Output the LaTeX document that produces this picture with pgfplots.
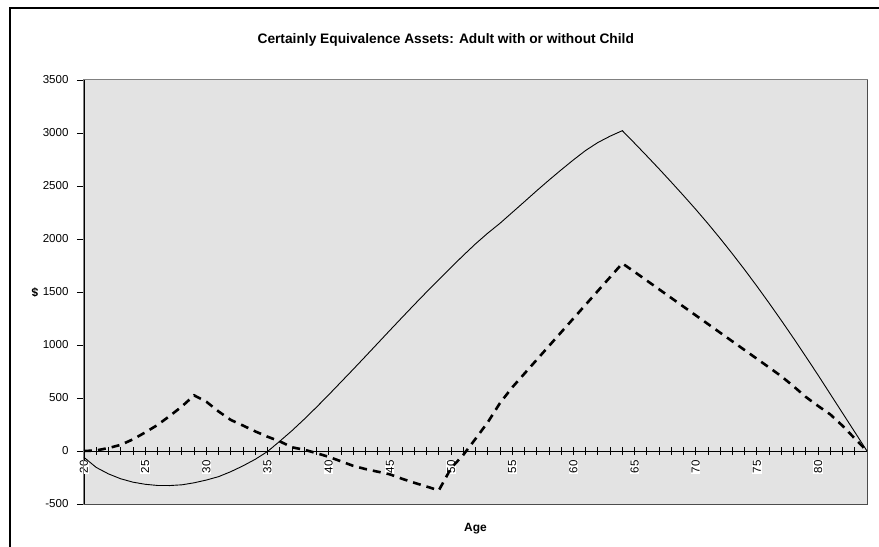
\documentclass[border=0pt]{standalone}
\usepackage{pgfplots}
\pgfplotsset{compat=1.18}
\usepackage{fontspec}
\setmainfont{Liberation Sans}
\definecolor{plotbg}{HTML}{E3E3E3}
\definecolor{plotframe}{HTML}{808080}
\begin{document}
\begin{tikzpicture}
\path[use as bounding box] (-84bp,-43bp) rectangle (795bp,504bp);
\draw[line width=2bp] (-74bp,-44bp) -- (-74bp,496bp) -- (796bp,496bp);
\begin{axis}[
  at={(0,0)}, anchor=south west,
  scale only axis, width=783bp, height=424bp,
  xmin=20, xmax=84, ymin=-500, ymax=3500,
  axis x line=middle, axis y line=left,
  axis line style={-, black, line width=0.9bp},
  hide obscured x ticks=false, hide obscured y ticks=false,
  axis background/.style={fill=plotbg},
  xtick={20,25,...,80},
  minor xtick={21,22,...,84},
  x tick style={black, line width=0.8bp},
  y tick style={black, line width=0.8bp},
  xtick align=center,
  ytick align=outside,
  major tick length=7bp, minor tick length=7bp,
  ytick={-500,0,...,3500},
  yticklabel style={xshift=-5bp},
  xticklabel style={rotate=90, anchor=east, fill=white, inner sep=0.6bp, xshift=-5bp},
  /pgf/number format/assume math mode=true,
  /pgf/number format/1000 sep={},
  tick label style={font=\fontsize{11.6}{13}\selectfont},
  title={Certainly Equivalence Assets: Adult with or without Child},
  title style={font=\fontsize{13.8}{15}\selectfont\bfseries, at={([yshift=34bp]axis description cs:0.462,1)}, anchor=center},
  xlabel={Age},
  xlabel style={font=\fontsize{12}{13}\selectfont\bfseries, at={([yshift=-25bp]axis description cs:0.5,0)}, anchor=center},
  ylabel={\rotatebox{90}{\$}},
  ylabel style={font=\fontsize{12}{13}\selectfont\bfseries, at={([xshift=-49bp]axis description cs:0,0.5)}, anchor=center, rotate=0},
  clip=false,
]
\draw[plotframe, line width=1bp] (rel axis cs:0,0) rectangle (rel axis cs:1,1);
\draw[black!70, line width=1.2bp] ([yshift=-0.8bp]rel axis cs:0,0) -- ([xshift=0.8bp,yshift=-0.8bp]rel axis cs:1,0) -- ([xshift=0.8bp]rel axis cs:1,1);
% without child (solid)
\addplot[black, line width=0.9bp] coordinates {
(20,-60) (21,-155) (22,-216) (23,-262) (24,-294) (25,-314) (26,-325) (27,-326)
(28,-319) (29,-300) (30,-274) (31,-242) (32,-195) (33,-140) (34,-78) (35,-5)
(36,92) (37,192) (38,300) (39,413) (40,530) (41,650) (42,770) (43,892)
(44,1015) (45,1138) (46,1260) (47,1381) (48,1500) (49,1617) (50,1732) (51,1845)
(52,1954) (53,2055) (54,2148) (55,2250) (56,2352) (57,2455) (58,2555) (59,2652)
(60,2746) (61,2835) (62,2910) (63,2970) (64,3022) (65,2904) (66,2784) (67,2662)
(68,2537) (69,2410) (70,2280) (71,2145) (72,2005) (73,1860) (74,1710) (75,1555)
(76,1395) (77,1231) (78,1063) (79,891) (80,716) (81,537) (82,358) (83,179) (84,0)
};
% with child (dashed)
\addplot[black, line width=2.6bp, dash pattern=on 8bp off 6bp] coordinates {
(20,0) (21,5) (22,28) (23,58) (24,110) (25,175) (26,245) (27,330) (28,420) (29,525)
(30,465) (31,373) (32,293) (33,240) (34,185) (35,135) (36,91) (37,35) (38,12)
(39,-20) (40,-55) (41,-97) (42,-140) (43,-170) (44,-195) (45,-220) (46,-262)
(47,-300) (48,-335) (49,-372) (50,-162) (51,-37) (52,115) (53,270) (54,452)
(55,600) (56,730) (57,860) (58,990) (59,1120) (60,1250) (61,1380) (62,1510)
(63,1640) (64,1770) (65,1690) (66,1608) (67,1526) (68,1444) (69,1362) (70,1280)
(71,1198) (72,1116) (73,1034) (74,952) (75,870) (76,788) (77,705) (78,610)
(79,510) (80,425) (81,345) (82,238) (83,118) (84,0)
};
\end{axis}
\end{tikzpicture}
\end{document}
